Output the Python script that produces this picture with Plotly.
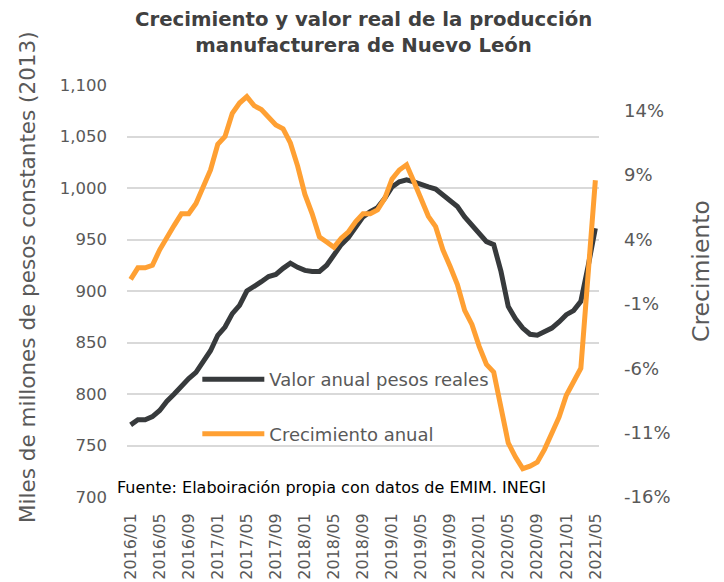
import plotly.graph_objects as go

# Categories: monthly 2016/01 .. 2021/05
months = [f"{y}/{m:02d}" for y in range(2016, 2022) for m in range(1, 13)]
months = months[:months.index("2021/05") + 1]
tick_labels = months[::4]

# Valor anual pesos reales (miles de millones de pesos constantes 2013)
valor = [770, 775, 775, 778, 784, 793, 800, 808, 815, 821, 831, 842,
         857, 865, 878, 886, 900, 904, 909, 914, 916, 922, 927, 923,
         920, 919, 919, 925, 935, 945, 952, 962, 972, 977, 981, 990,
         1001, 1006, 1008, 1006, 1003, 1001, 999, 993, 988, 982, 972, 964,
         955, 948, 945, 919, 885, 873, 864, 858, 857, 860, 864, 870,
         877, 881, 890, 924, 961]

# Crecimiento anual (%)
crec = [0.9, 1.8, 1.8, 2.0, 3.2, 4.2, 5.1, 6.0, 6.0, 6.8, 8.2, 9.4,
        11.4, 12.0, 13.8, 14.6, 15.1, 14.4, 14.1, 13.5, 12.9, 12.6, 11.5, 9.7,
        7.5, 6.0, 4.2, 3.8, 3.4, 4.1, 4.6, 5.4, 6.0, 6.0, 6.3, 7.2,
        8.7, 9.4, 9.8, 8.5, 7.1, 5.8, 5.0, 3.2, 1.9, 0.5, -1.5, -2.6,
        -4.3, -5.7, -6.3, -8.9, -11.8, -12.9, -13.8, -13.6, -13.3, -12.3, -11.1, -9.8,
        -8.1, -7.0, -6.0, 1.3, 8.6]

left_ticks = [700, 750, 800, 850, 900, 950, 1000, 1050, 1100]
left_text = ["700", "750", "800", "850", "900", "950", "1,000", "1,050", "1,100"]
right_ticks = [-16, -11, -6, -1, 4, 9, 14]
right_text = ["-16%", "-11%", "-6%", "-1%", "4%", "9%", "14%"]

FONT = "DejaVu Sans"
GRAY = "#595959"
DARK = "#373A3C"
ORANGE = "#FFA033"

fig = go.Figure()
fig.add_trace(go.Scatter(x=months, y=valor, mode="lines", name="Valor anual pesos reales",
                         legendgroup="a", line=dict(color=DARK, width=5), yaxis="y"))
fig.add_trace(go.Scatter(x=months, y=crec, mode="lines", name="Crecimiento anual",
                         legendgroup="b", line=dict(color=ORANGE, width=5), yaxis="y2"))

fig.update_layout(
    width=724, height=582,
    margin=dict(l=127, r=125, t=85, b=85),
    paper_bgcolor="white", plot_bgcolor="white",
    font=dict(family=FONT, color=GRAY),
    xaxis=dict(type="category", tickmode="array", tickvals=tick_labels, ticktext=tick_labels,
               tickangle=-90, tickfont=dict(size=16, color=GRAY), showgrid=False,
               showline=False, zeroline=False, ticks="", ticklabelstandoff=12,
               automargin=False, range=[-0.5, len(months) - 0.5]),
    yaxis=dict(range=[700, 1100], tickmode="array", tickvals=left_ticks, ticktext=left_text,
               tickfont=dict(size=16.5, color=GRAY), showgrid=True, gridcolor="#D9D9D9",
               gridwidth=1.5, zeroline=False, showline=False, ticks="",
               ticklabelstandoff=19, automargin=False),
    yaxis2=dict(range=[-16, 16], overlaying="y", side="right", tickmode="array",
                tickvals=right_ticks, ticktext=right_text, tickfont=dict(size=18, color=GRAY),
                showgrid=False, zeroline=False, showline=False, ticks="",
                ticklabelstandoff=24, automargin=False),
    legend=dict(x=0.149, y=0.33, xanchor="left", yanchor="top", bgcolor="rgba(0,0,0,0)",
                font=dict(size=18, color=GRAY), itemwidth=62, tracegroupgap=28,
                traceorder="grouped"),
    annotations=[
        dict(text="<b>Crecimiento y valor real de la producción<br>manufacturera de Nuevo León</b>",
             xref="paper", yref="paper", x=0.5, y=1 + 79 / 412, xanchor="center",
             yanchor="top", showarrow=False, align="center",
             font=dict(family=FONT, size=19.7, color="#404040")),
        dict(text="Miles de millones de pesos constantes (2013)",
             xref="paper", yref="paper", x=(27 - 127) / 472, y=(497 - 277) / 412,
             xanchor="center", yanchor="middle", textangle=-90, showarrow=False,
             font=dict(size=21.5, color=GRAY, family=FONT)),
        dict(text="Crecimiento",
             xref="paper", yref="paper", x=(701 - 127) / 472, y=(497 - 271) / 412,
             xanchor="center", yanchor="middle", textangle=-90, showarrow=False,
             font=dict(size=23.5, color=GRAY, family=FONT)),
        dict(text="Fuente: Elaboiración propia con datos de EMIM. INEGI",
             xref="paper", yref="paper", x=-12 / 472, y=10 / 412, xanchor="left",
             yanchor="middle", showarrow=False,
             font=dict(size=16, color="#000000", family=FONT)),
    ],
)

fig.write_html("out.html", config={"displayModeBar": False},
               post_script="document.body.style.margin='0';")
